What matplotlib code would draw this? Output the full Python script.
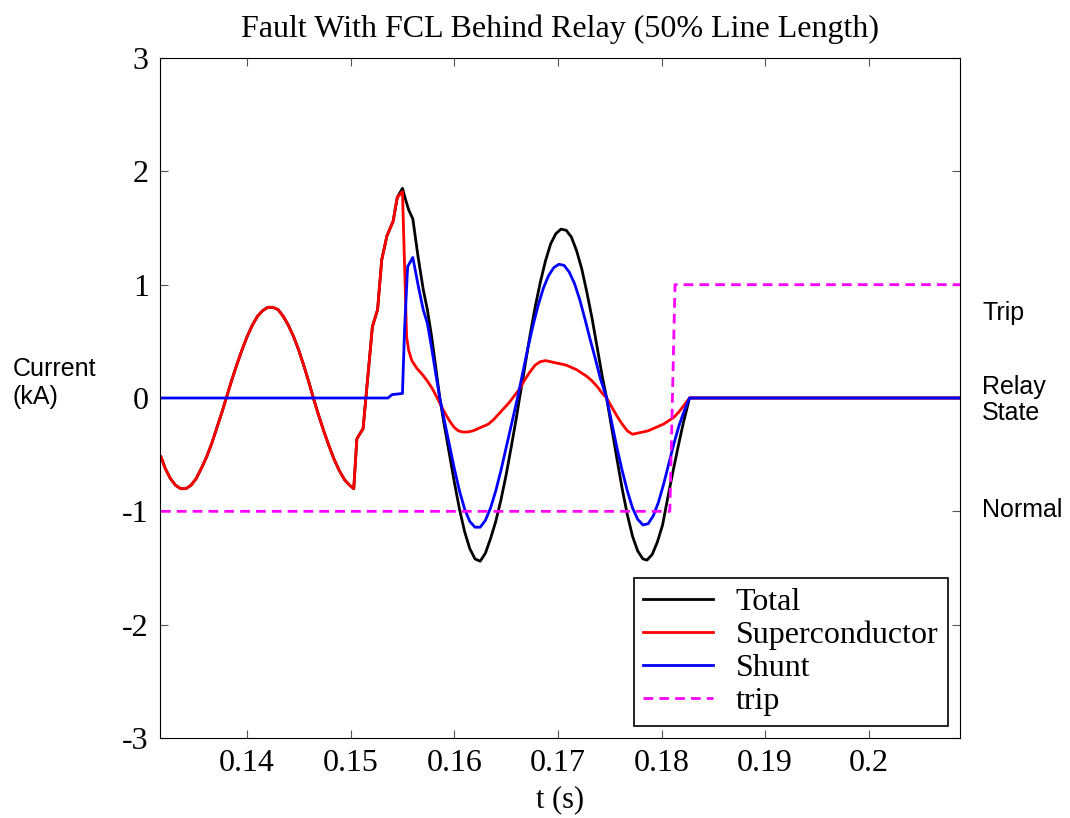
import numpy as np
import matplotlib.pyplot as plt

plt.rcParams['axes.unicode_minus'] = False

# Datos (t en s, corriente en kA)
# Antes de la falta: Total = Superconductor
t_pre = [0.1317, 0.1321, 0.1326, 0.1331, 0.1336, 0.1341, 0.1346, 0.1351, 0.1356,
         0.1361, 0.1366, 0.1371, 0.1376, 0.1380, 0.1385, 0.1390, 0.1395, 0.1400,
         0.1405, 0.1410, 0.1415, 0.1420, 0.1425, 0.1430, 0.1435, 0.1440, 0.1445,
         0.1450, 0.1455, 0.1460, 0.1464, 0.1469, 0.1474, 0.1479, 0.1484, 0.1489,
         0.1494, 0.1499, 0.1503, 0.1506, 0.1512, 0.1516, 0.1521, 0.1526, 0.1530,
         0.1535, 0.1541, 0.1545]
i_pre = [-0.52, -0.62, -0.71, -0.77, -0.80, -0.80, -0.77, -0.71, -0.62,
         -0.52, -0.40, -0.26, -0.12, 0.00, 0.15, 0.29, 0.42, 0.54,
         0.64, 0.72, 0.77, 0.80, 0.80, 0.78, 0.72, 0.64, 0.54,
         0.42, 0.28, 0.13, 0.00, -0.15, -0.29, -0.42, -0.54, -0.64,
         -0.72, -0.77, -0.80, -0.36, -0.27, 0.13, 0.63, 0.78, 1.22,
         1.43, 1.56, 1.77]

t_sc_post = [0.1550, 0.1554, 0.1556, 0.1559, 0.1564, 0.1569, 0.1574, 0.1579, 0.1583,
             0.1588, 0.1592, 0.1596, 0.1600, 0.1604, 0.1608, 0.1613, 0.1618, 0.1623,
             0.1628, 0.1633, 0.1638, 0.1643, 0.1648, 0.1653, 0.1658, 0.1663, 0.1668,
             0.1673, 0.1678, 0.1683, 0.1688, 0.1693, 0.1698, 0.1703, 0.1708, 0.1713,
             0.1718, 0.1723, 0.1728, 0.1733, 0.1738, 0.1742, 0.1747, 0.1752, 0.1757,
             0.1762, 0.1767, 0.1772, 0.1777, 0.1782, 0.1787, 0.1792, 0.1797, 0.1802,
             0.1807, 0.1812, 0.1817, 0.1822, 0.1827, 0.2088]
i_sc_post = [1.82, 0.54, 0.42, 0.33, 0.26, 0.21, 0.15, 0.08, 0.01,
             -0.08, -0.15, -0.21, -0.26, -0.29, -0.30, -0.30, -0.29, -0.27,
             -0.25, -0.23, -0.19, -0.14, -0.09, -0.04, 0.02, 0.08, 0.16,
             0.23, 0.29, 0.32, 0.33, 0.32, 0.31, 0.30, 0.29, 0.27,
             0.25, 0.22, 0.19, 0.15, 0.10, 0.05, 0.00, -0.08, -0.16,
             -0.23, -0.29, -0.32, -0.31, -0.30, -0.29, -0.27, -0.25, -0.23,
             -0.20, -0.17, -0.12, -0.06, 0.00, 0.00]

t_tot_post = [0.1550, 0.1553, 0.1556, 0.1560, 0.1565, 0.1570, 0.1574, 0.1578, 0.1582,
              0.1586, 0.1590, 0.1595, 0.1600, 0.1605, 0.1610, 0.1615, 0.1620, 0.1625,
              0.1630, 0.1635, 0.1640, 0.1645, 0.1650, 0.1655, 0.1660, 0.1663, 0.1668,
              0.1673, 0.1678, 0.1683, 0.1688, 0.1693, 0.1698, 0.1703, 0.1708, 0.1713,
              0.1718, 0.1723, 0.1728, 0.1733, 0.1738, 0.1743, 0.1747, 0.1752, 0.1757,
              0.1762, 0.1767, 0.1772, 0.1777, 0.1782, 0.1786, 0.1791, 0.1796, 0.1801,
              0.1806, 0.1811, 0.1816, 0.1821, 0.1827, 0.2088]
i_tot_post = [1.85, 1.75, 1.66, 1.58, 1.25, 0.96, 0.78, 0.55, 0.28,
              0.00, -0.22, -0.48, -0.74, -0.98, -1.18, -1.33, -1.42, -1.44,
              -1.37, -1.24, -1.09, -0.90, -0.68, -0.43, -0.17, 0.00, 0.27,
              0.55, 0.80, 1.02, 1.21, 1.36, 1.45, 1.49, 1.48, 1.42,
              1.30, 1.14, 0.93, 0.70, 0.44, 0.18, 0.00, -0.27, -0.54,
              -0.80, -1.03, -1.22, -1.35, -1.42, -1.43, -1.38, -1.27, -1.12,
              -0.88, -0.65, -0.43, -0.22, 0.00, 0.00]

t_shunt = [0.1317, 0.1536, 0.1540, 0.1550, 0.1552, 0.1555, 0.1560, 0.1565, 0.1570,
           0.1574, 0.1578, 0.1582, 0.1586, 0.1590, 0.1595, 0.1600, 0.1605, 0.1610,
           0.1615, 0.1620, 0.1625, 0.1630, 0.1635, 0.1640, 0.1645, 0.1650, 0.1655,
           0.1661, 0.1666, 0.1671, 0.1676, 0.1681, 0.1686, 0.1691, 0.1696, 0.1701,
           0.1706, 0.1711, 0.1716, 0.1721, 0.1726, 0.1731, 0.1736, 0.1741, 0.1747,
           0.1752, 0.1757, 0.1762, 0.1767, 0.1772, 0.1777, 0.1782, 0.1787, 0.1792,
           0.1797, 0.1802, 0.1807, 0.1812, 0.1817, 0.1822, 0.1827, 0.2088]
i_shunt = [0.00, 0.00, 0.03, 0.04, 0.60, 1.16, 1.24, 1.00, 0.78,
           0.66, 0.45, 0.22, 0.00, -0.18, -0.40, -0.62, -0.82, -0.98,
           -1.09, -1.14, -1.14, -1.08, -0.97, -0.82, -0.64, -0.44, -0.24,
           0.00, 0.22, 0.44, 0.64, 0.82, 0.97, 1.08, 1.15, 1.18,
           1.17, 1.11, 1.01, 0.87, 0.70, 0.52, 0.35, 0.17, 0.00,
           -0.22, -0.44, -0.64, -0.82, -0.97, -1.07, -1.12, -1.11, -1.04,
           -0.92, -0.76, -0.58, -0.40, -0.24, -0.11, 0.00, 0.00]

t_trip = [0.1317, 0.1808, 0.1813, 0.2088]
trip = [-1, -1, 1, 1]

t_total = t_pre + t_tot_post
i_total = i_pre + i_tot_post
t_sc = t_pre + t_sc_post
i_sc = i_pre + i_sc_post

serif = ['Liberation Serif', 'DejaVu Serif']
sans = ['Liberation Sans', 'DejaVu Sans']

fig = plt.figure(figsize=(10.7, 8.18), dpi=100)
ax = fig.add_axes([0.1495, 0.0978, 0.7477, 0.8313])

ax.plot(t_total, i_total, color='black', lw=2.0, label='Total')
ax.plot(t_sc, i_sc, color='red', lw=2.0, label='Superconductor')
ax.plot(t_shunt, i_shunt, color='blue', lw=2.0, label='Shunt')
ax.plot(t_trip, trip, color='magenta', lw=2.0, ls=(0, (3.5, 2.2)), label='trip')

ax.set_xlim(0.1316, 0.2088)
ax.set_ylim(-3, 3)
ax.set_xticks([0.14, 0.15, 0.16, 0.17, 0.18, 0.19, 0.2])
ax.set_xticklabels(['0.14', '0.15', '0.16', '0.17', '0.18', '0.19', '0.2'])
ax.set_yticks([-3, -2, -1, 0, 1, 2, 3])
ax.tick_params(direction='in', length=6, width=0.8, color='#555555',
               top=True, right=True, labelsize=23, pad=8)
for lab in ax.get_xticklabels() + ax.get_yticklabels():
    lab.set_family(serif)

ax.set_title('Fault With FCL Behind Relay (50% Line Length)', family=serif,
             fontsize=23, pad=15)
ax.set_xlabel('t (s)', family=serif, fontsize=22, labelpad=5)

fig.text(0.012, 0.532, 'Current\n(kA)', family=sans, fontsize=18,
         ha='left', va='center', linespacing=1.2)
fig.text(0.918, 0.617, 'Trip', family=sans, fontsize=18, va='center')
fig.text(0.918, 0.511, 'Relay\nState', family=sans, fontsize=18, va='center',
         linespacing=1.15)
fig.text(0.918, 0.377, 'Normal', family=sans, fontsize=18, va='center')

leg = ax.legend(loc='lower right', prop={'family': serif, 'size': 23},
                fancybox=False, edgecolor='black', framealpha=1,
                handlelength=2.2, handletextpad=0.7, borderpad=0.3,
                labelspacing=0.12, borderaxespad=0,
                bbox_to_anchor=(0.985, 0.0176))
leg.get_frame().set_linewidth(1.2)

fig.savefig('out.png', dpi=100)
